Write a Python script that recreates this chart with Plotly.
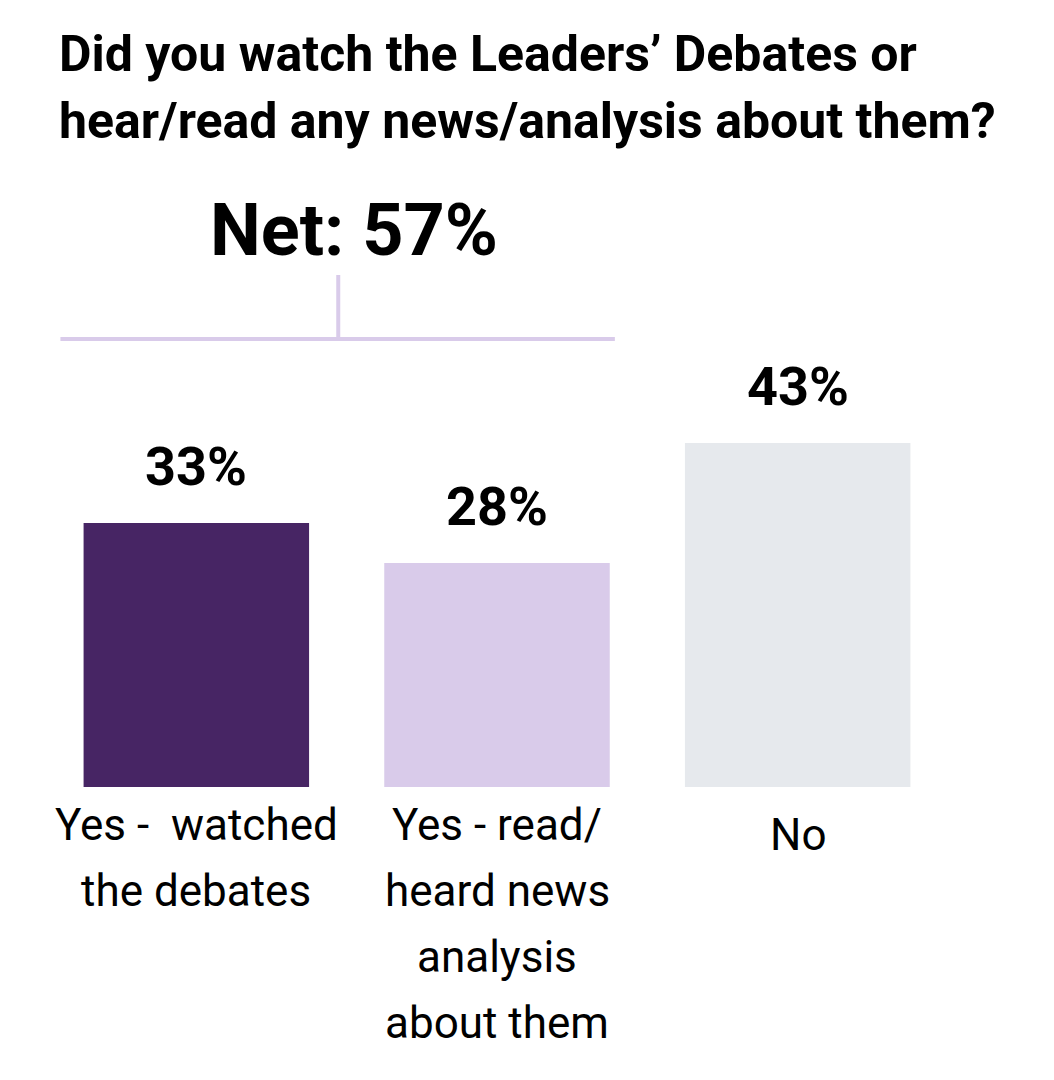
import plotly.graph_objects as go

# ---- data ----
categories = ["Yes - watched the debates", "Yes - read/heard news analysis about them", "No"]
label_lines = [["Yes -  watched", "the debates"],
               ["Yes - read/", "heard news", "analysis", "about them"],
               ["No"]]
values = [33, 28, 43]
value_labels = ["33%", "28%", "43%"]
net_label = "Net: 57%"
title_lines = ["Did you watch the Leaders’ Debates or",
               "hear/read any news/analysis about them?"]

# ---- style ----
colors = ["#472564", "#D9CBEA", "#E6E9ED"]
bracket_color = "#D9CBEA"
FONT = "Roboto"

W, H = 1054, 1080
ML, MR, MT, MB = 37.5, 113.5, 259, 301
plot_h = H - MT - MB
plot_w = W - ML - MR

x_idx = list(range(len(categories)))

fig = go.Figure()
fig.add_trace(go.Bar(
    x=x_idx, y=values,
    marker=dict(color=colors, line=dict(width=0)),
    hoverinfo="skip",
))

annotations = []
# value labels
for i, (v, lab) in enumerate(zip(values, value_labels)):
    annotations.append(dict(
        x=i, y=v, xref="x", yref="y", text=lab, showarrow=False,
        xanchor="center", yanchor="bottom", yshift=23,
        font=dict(family=FONT, size=54, color="#000000", weight=700),
    ))
# category labels (one annotation per line for custom spacing)
for i, lines in enumerate(label_lines):
    base = -10 if len(lines) > 1 else -20
    for j, line in enumerate(lines):
        annotations.append(dict(
            x=i, y=0, xref="x", yref="y", text=line, showarrow=False,
            xanchor="center", yanchor="top", yshift=base - 66 * j,
            font=dict(family=FONT, size=44, color="#000000", weight=400),
        ))
# title lines (top of each line box in figure pixels -> paper coords)
for j, line in enumerate(title_lines):
    top_px = 15 + 67 * j
    annotations.append(dict(
        x=(49 - ML) / plot_w, y=(H - MB - top_px) / plot_h,
        xref="paper", yref="paper", text=line, showarrow=False,
        xanchor="left", yanchor="top",
        font=dict(family=FONT, size=50, color="#000000", weight=700),
    ))
# net label
annotations.append(dict(
    x=0.525, y=64, xref="x", yref="y", text=net_label, showarrow=False,
    xanchor="center", yanchor="bottom", yshift=0,
    font=dict(family=FONT, size=72, color="#000000", weight=700),
))

# bracket over the first two bars
shapes = [
    dict(type="line", xref="x", yref="y", x0=-0.452, x1=1.392, y0=56, y1=56,
         line=dict(color=bracket_color, width=4)),
    dict(type="line", xref="x", yref="y", x0=0.472, x1=0.472, y0=56, y1=64,
         line=dict(color=bracket_color, width=4)),
]

fig.update_layout(
    width=W, height=H,
    margin=dict(l=ML, r=MR, t=MT, b=MB),
    paper_bgcolor="#FFFFFF", plot_bgcolor="#FFFFFF",
    bargap=0.25,
    showlegend=False,
    xaxis=dict(range=[-0.5, 2.5], showticklabels=False, showgrid=False,
               zeroline=False, showline=False, ticks=""),
    yaxis=dict(range=[0, 65], showticklabels=False, showgrid=False,
               zeroline=False, showline=False, ticks=""),
    annotations=annotations,
    shapes=shapes,
    font=dict(family=FONT),
)

fig.write_html("out.html", config={"displayModeBar": False})
